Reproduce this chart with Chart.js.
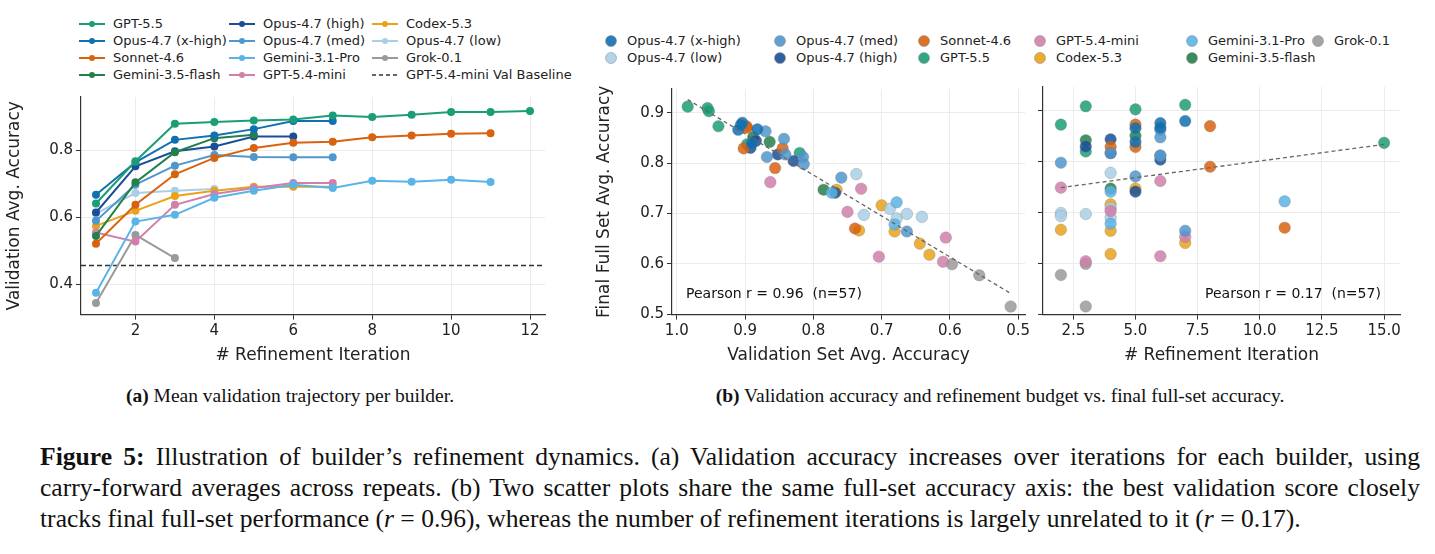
<!DOCTYPE html>
<html><head><meta charset="utf-8">
<script src="https://cdn.jsdelivr.net/npm/chart.js@4.4.1/dist/chart.umd.min.js"></script>
<style>
body{margin:0;width:1435px;height:554px;background:#fff;position:relative;overflow:hidden;font-family:"DejaVu Sans",sans-serif;}
.abs{position:absolute;}
canvas{position:absolute;}
.leg{font-size:13px;color:#222;white-space:nowrap;display:flex;align-items:center;}
.serif{font-family:"Liberation Serif",serif;color:#111;}
.cap div{font-size:25.6px;line-height:31px;white-space:nowrap;}
.cap .j{text-align:justify;text-align-last:justify;white-space:normal;}
</style></head><body>
<canvas id="c1" style="left:0;top:85px;" width="560" height="285"></canvas>
<canvas id="c2" style="left:590px;top:77px;" width="445" height="293"></canvas>
<canvas id="c3" style="left:1035px;top:77px;" width="375" height="293"></canvas>
<div id="leg1"></div><div id="leg2"></div>
<div class="abs" style="left:686px;top:285px;font-size:14px;color:#111;">Pearson r = 0.96&nbsp; (n=57)</div>
<div class="abs" style="left:1205px;top:285px;font-size:14px;color:#111;">Pearson r = 0.17&nbsp; (n=57)</div>
<div class="abs serif" style="left:0;width:580px;top:385px;text-align:center;font-size:19.5px;"><b>(a)</b> Mean validation trajectory per builder.</div>
<div class="abs serif" style="left:590px;width:820px;top:385px;text-align:center;font-size:19.5px;"><b>(b)</b> Validation accuracy and refinement budget vs. final full-set accuracy.</div>
<div class="abs serif cap" style="left:40px;width:1380px;top:441px;">
<div class="j"><b>Figure 5:</b> Illustration of builder’s refinement dynamics. (a) Validation accuracy increases over iterations for each builder, using</div>
<div class="j">carry-forward averages across repeats. (b) Two scatter plots share the same full-set accuracy axis: the best validation score closely</div>
<div>tracks final full-set performance (<i>r</i> = 0.96), whereas the number of refinement iterations is largely unrelated to it (<i>r</i> = 0.17).</div>
</div>
<script>
// ---- data ----
const builders = ["GPT-5.5","Opus-4.7 (x-high)","Sonnet-4.6","Gemini-3.5-flash","Opus-4.7 (high)","Opus-4.7 (med)","Gemini-3.1-Pro","GPT-5.4-mini","Codex-5.3","Opus-4.7 (low)","Grok-0.1"];
const colors = {"GPT-5.5":"#1a9e77","Opus-4.7 (x-high)":"#1170b0","Sonnet-4.6":"#d9620f","Gemini-3.5-flash":"#23804a","Opus-4.7 (high)":"#1a4f96","Opus-4.7 (med)":"#4f97cc","Gemini-3.1-Pro":"#5ab4e8","GPT-5.4-mini":"#d17fab","Codex-5.3":"#eaa21a","Opus-4.7 (low)":"#a9cfe6","Grok-0.1":"#9a9a9a"};
const traj = {
 "GPT-5.5":[0.642,0.768,0.880,0.885,0.890,0.893,0.905,0.900,0.907,0.915,0.915,0.918],
 "Opus-4.7 (x-high)":[0.668,0.765,0.832,0.845,0.864,0.888,0.888],
 "Sonnet-4.6":[0.522,0.638,0.729,0.778,0.808,0.823,0.826,0.840,0.845,0.850,0.852],
 "Gemini-3.5-flash":[0.545,0.705,0.795,0.837,0.847],
 "Opus-4.7 (high)":[0.615,0.753,0.798,0.812,0.842,0.842],
 "Opus-4.7 (med)":[0.590,0.698,0.755,0.787,0.781,0.780,0.780],
 "Gemini-3.1-Pro":[0.375,0.588,0.608,0.659,0.680,0.698,0.688,0.710,0.707,0.713,0.706],
 "GPT-5.4-mini":[0.555,0.528,0.638,0.670,0.688,0.703,0.703],
 "Codex-5.3":[0.575,0.620,0.664,0.680,0.692,0.692,0.692],
 "Opus-4.7 (low)":[0.612,0.673,0.680,0.685],
 "Grok-0.1":[0.345,0.548,0.479]
};
const baselineLabel = "GPT-5.4-mini Val Baseline";
const baseline = 0.457;
const iterTicks = [2,4,6,8,10,12];
const accTicks1 = [0.4,0.6,0.8];
// scatter runs: builder, best val acc, iterations, final full acc
const runsBuilder = ["GPT-5.5","GPT-5.5","GPT-5.5","GPT-5.5","GPT-5.5","GPT-5.5",
 "Opus-4.7 (x-high)","Opus-4.7 (x-high)","Opus-4.7 (x-high)","Opus-4.7 (x-high)","Opus-4.7 (med)","Opus-4.7 (med)",
 "Sonnet-4.6","Sonnet-4.6","Sonnet-4.6","Sonnet-4.6","Sonnet-4.6","Sonnet-4.6",
 "Gemini-3.5-flash","Gemini-3.5-flash","Gemini-3.5-flash",
 "Opus-4.7 (x-high)","Opus-4.7 (high)","Opus-4.7 (high)","Opus-4.7 (high)","Opus-4.7 (med)","Opus-4.7 (high)","Opus-4.7 (med)","Opus-4.7 (med)","Opus-4.7 (high)","Opus-4.7 (med)",
 "Opus-4.7 (low)","GPT-5.4-mini","GPT-5.4-mini","Codex-5.3","Gemini-3.1-Pro","GPT-5.4-mini","Opus-4.7 (low)","Codex-5.3","Opus-4.7 (low)","Gemini-3.1-Pro","Opus-4.7 (low)","Opus-4.7 (low)","Opus-4.7 (low)","Gemini-3.1-Pro","Codex-5.3","Opus-4.7 (med)","Codex-5.3","GPT-5.4-mini","GPT-5.4-mini","Codex-5.3","Codex-5.3","GPT-5.4-mini","Grok-0.1","Grok-0.1","Grok-0.1","Opus-4.7 (med)"];
const runsVal = [0.984,0.955,0.953,0.939,0.897,0.820, 0.904,0.906,0.910,0.882,0.870,0.843, 0.898,0.897,0.902,0.845,0.856,0.739, 0.888,0.864,0.785,
 0.890,0.892,0.884,0.852,0.841,0.829,0.815,0.814,0.768,0.759,
 0.737,0.863,0.730,0.766,0.773,0.750,0.726,0.700,0.688,0.678,0.678,0.663,0.641,0.681,0.681,0.663,0.733,0.704,0.606,0.644,0.630,0.610,0.597,0.557,0.511,0.868];
const runsIter = [7,3,5,2,15,3, 7,6,5,6,6,6, 5,8,4,5,8,11, 5,3,4,
 5,3,4,4,4,6,6,2,5,5,
 4,6,2,5,4,4,3,4,4,11,4,2,2,4,4,7,2,6,7,7,4,3,3,2,3,6];
const runsFull = [0.912,0.909,0.903,0.873,0.837,0.820, 0.880,0.876,0.866,0.867,0.863,0.848, 0.873,0.870,0.829,0.829,0.790,0.670, 0.851,0.842,0.747,
 0.839,0.830,0.844,0.817,0.817,0.804,0.812,0.798,0.741,0.771,
 0.778,0.762,0.749,0.747,0.741,0.703,0.697,0.716,0.709,0.722,0.690,0.699,0.693,0.678,0.664,0.664,0.666,0.614,0.652,0.640,0.618,0.604,0.599,0.577,0.515,0.812];
const fitVal = {x:[0.984,0.511], y:[0.926,0.541]};
const fitIter = {x:[2,15], y:[0.749,0.834]};
const valTicks = [1.0,0.9,0.8,0.7,0.6,0.5];
const iterTicks2 = [2.5,5.0,7.5,10.0,12.5,15.0];
const accTicks2 = [0.5,0.6,0.7,0.8,0.9];
const scatterOrder = ["Opus-4.7 (x-high)","Opus-4.7 (med)","Sonnet-4.6","GPT-5.4-mini","Gemini-3.1-Pro","Grok-0.1","Opus-4.7 (low)","Opus-4.7 (high)","GPT-5.5","Codex-5.3","Gemini-3.5-flash"];
const legend1Order = ["GPT-5.5","Opus-4.7 (high)","Codex-5.3","Opus-4.7 (x-high)","Opus-4.7 (med)","Opus-4.7 (low)","Sonnet-4.6","Gemini-3.1-Pro","Grok-0.1","Gemini-3.5-flash","GPT-5.4-mini",baselineLabel];

// ---- helpers ----
Chart.defaults.font.family = "DejaVu Sans";
Chart.defaults.color = "#222";
Chart.defaults.animation = false;
function rgba(hex,a){const n=parseInt(hex.slice(1),16);return `rgba(${n>>16},${(n>>8)&255},${n&255},${a})`;}
const fixTicks = arr => s => { s.ticks = arr.map(v=>({value:v})); };
const grid = {color:"#ebebeb", tickColor:"#333", tickLength:5, lineWidth:1};
const border = {display:true,color:"#333",width:1.2};

// ---- legend 1 ----
const l1 = document.getElementById('leg1');
const colX=[78,228,371], rowY=[24,41,58,75];
legend1Order.forEach((name,i)=>{
  const d=document.createElement('div'); d.className='abs leg';
  d.style.left=colX[i%3]+'px'; d.style.top=(rowY[Math.floor(i/3)]-8)+'px';
  const isB = name===baselineLabel;
  const c = isB?'#333':colors[name];
  d.innerHTML = isB ? `<svg width="28" height="10"><line x1="1" y1="5" x2="27" y2="5" stroke="#333" stroke-width="1.5" stroke-dasharray="4,3"/></svg><span style="margin-left:7px">${name}</span>`
   : `<svg width="28" height="10"><line x1="1" y1="5" x2="27" y2="5" stroke="${c}" stroke-width="2"/><circle cx="14" cy="5" r="3" fill="${c}"/></svg><span style="margin-left:7px">${name}</span>`;
  l1.appendChild(d);
});
// ---- legend 2 ----
const l2=document.getElementById('leg2');
const col2=[611,780,924,1040,1192,1318], row2=[41,58];
scatterOrder.forEach((name,i)=>{
  const d=document.createElement('div'); d.className='abs leg';
  d.style.left=(col2[i%6]-7)+'px'; d.style.top=(row2[Math.floor(i/6)]-8)+'px';
  d.innerHTML=`<svg width="14" height="14"><circle cx="7" cy="7" r="5.5" fill="${rgba(colors[name],0.9)}" stroke="#888" stroke-width="0.5"/></svg><span style="margin-left:9px">${name}</span>`;
  l2.appendChild(d);
});

// ---- chart a ----
const ds1 = builders.map(b=>({label:b,data:traj[b].map((v,i)=>({x:i+1,y:v})),borderColor:colors[b],backgroundColor:colors[b],borderWidth:2,pointRadius:3,pointHoverRadius:3}));
ds1.push({label:baselineLabel,data:[{x:0.62,y:baseline},{x:12.38,y:baseline}],borderColor:"#333",borderWidth:1.5,borderDash:[5,3],pointRadius:0});
new Chart(document.getElementById('c1'),{type:'line',data:{datasets:ds1},
 options:{responsive:false,layout:{padding:{top:10,right:15}},plugins:{legend:{display:false},tooltip:{enabled:false}},
 scales:{
  x:{type:'linear',min:0.62,max:12.38,afterBuildTicks:fixTicks(iterTicks),grid,border,ticks:{font:{size:15},color:'#222'},
     title:{display:true,text:"# Refinement Iteration",font:{size:17},padding:{top:2}}},
  y:{min:0.31,max:0.96,afterBuildTicks:fixTicks(accTicks1),grid,border,ticks:{font:{size:15},color:'#222',callback:v=>v.toFixed(1)},
     title:{display:true,text:"Validation Avg. Accuracy",font:{size:17},padding:{bottom:4}},afterFit:s=>{s.width=81;}}
 }}});

// ---- scatter charts ----
function scatterSets(xs){
  return scatterOrder.map(b=>({label:b,data:runsBuilder.map((n,i)=>n===b?{x:xs[i],y:runsFull[i]}:null).filter(Boolean),
    backgroundColor:rgba(colors[b],0.85),borderColor:'rgba(120,120,120,0.6)',borderWidth:0.5,pointRadius:5.8,pointHoverRadius:5.8}));
}
function fitSet(f){return {type:'line',data:f.x.map((x,i)=>({x,y:f.y[i]})),borderColor:'#666',borderWidth:1.3,borderDash:[4,3],pointRadius:0,order:-1};}
const common = {responsive:false,plugins:{legend:{display:false},tooltip:{enabled:false}}};
new Chart(document.getElementById('c2'),{type:'scatter',data:{datasets:[fitSet(fitVal),...scatterSets(runsVal)]},
 options:{...common,layout:{padding:{top:10,right:10}},scales:{
  x:{reverse:true,min:0.49,max:1.007,afterBuildTicks:fixTicks(valTicks),grid,border,ticks:{font:{size:15},color:'#222',callback:v=>v.toFixed(1)},
     title:{display:true,text:"Validation Set Avg. Accuracy",font:{size:17},padding:{top:2}}},
  y:{min:0.499,max:0.947,afterBuildTicks:fixTicks(accTicks2),grid,border,ticks:{font:{size:15},color:'#222',callback:v=>v.toFixed(1)},
     title:{display:true,text:"Final Full Set Avg. Accuracy",font:{size:17},padding:{bottom:4}},afterFit:s=>{s.width=82;}}
 }}});
new Chart(document.getElementById('c3'),{type:'scatter',data:{datasets:[fitSet(fitIter),...scatterSets(runsIter)]},
 options:{...common,layout:{padding:{top:10,right:10}},scales:{
  x:{min:1.28,max:15.64,afterBuildTicks:fixTicks(iterTicks2),grid,border,ticks:{font:{size:15},color:'#222',callback:v=>v.toFixed(1)},
     title:{display:true,text:"# Refinement Iteration",font:{size:17},padding:{top:2}}},
  y:{min:0.499,max:0.947,afterBuildTicks:fixTicks(accTicks2),grid,border,ticks:{display:false},afterFit:s=>{s.width=8;}}
 }}});
</script></body></html>
